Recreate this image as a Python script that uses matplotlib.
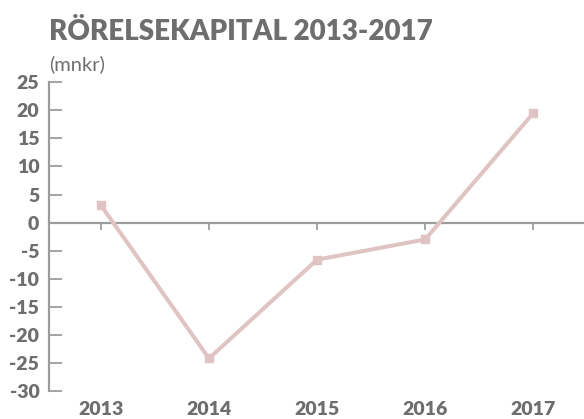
import matplotlib.pyplot as plt

# data
years = ["2013", "2014", "2015", "2016", "2017"]
rorelsekapital = [3.1, -24.2, -6.6, -3.0, 19.5]
y_ticks = [25, 20, 15, 10, 5, 0, -5, -10, -15, -20, -25, -30]

TEXT = '#6e6e6e'
AXIS = '#9c9c9c'
LINE = '#e0c3c3'

plt.rcParams['font.family'] = ['Lato', 'DejaVu Sans']
plt.rcParams['font.weight'] = 'heavy'

fig = plt.figure(figsize=(5.84, 4.19), dpi=100)
ax = fig.add_axes([49 / 584, 1 - 391 / 419, 1 - 49 / 584, (391 - 82.3) / 419])

x = list(range(len(years)))
ax.plot(x, rorelsekapital, color=LINE, linewidth=2.9, marker='s', markersize=6,
        solid_joinstyle='miter', zorder=3)

ax.set_xlim(-0.48, 4.47)
ax.set_ylim(-30, 25)

# spines
for s in ['top', 'right']:
    ax.spines[s].set_visible(False)
ax.spines['left'].set_color(AXIS)
ax.spines['left'].set_linewidth(1.6)
ax.spines['bottom'].set_position(('data', 0))
ax.spines['bottom'].set_color(AXIS)
ax.spines['bottom'].set_linewidth(1.6)

ax.set_yticks(y_ticks)
ax.set_yticklabels([str(v) for v in y_ticks])
ax.tick_params(axis='y', direction='in', length=9.5, width=1.3, color=AXIS,
               pad=7, labelsize=14, labelcolor=TEXT)

ax.set_xticks(x)
ax.tick_params(axis='x', direction='out', length=5, width=1.3, color=AXIS,
               labelbottom=False)

# year labels below the plot
sec = ax.secondary_xaxis('bottom')
sec.spines['bottom'].set_visible(False)
sec.set_xticks(x)
sec.set_xticklabels(years)
sec.tick_params(length=0, pad=7, labelsize=14, labelcolor=TEXT)

fig.text(49 / 584, 1 - 39.5 / 419, "RÖRELSEKAPITAL 2013-2017", fontsize=20,
         fontweight='heavy', color=TEXT, ha='left', va='baseline')
fig.text(49 / 584, 1 - 70 / 419, "(mnkr)", fontsize=14.5, fontweight='normal',
         color=TEXT, ha='left', va='baseline')

fig.savefig('out.png', dpi=100)
